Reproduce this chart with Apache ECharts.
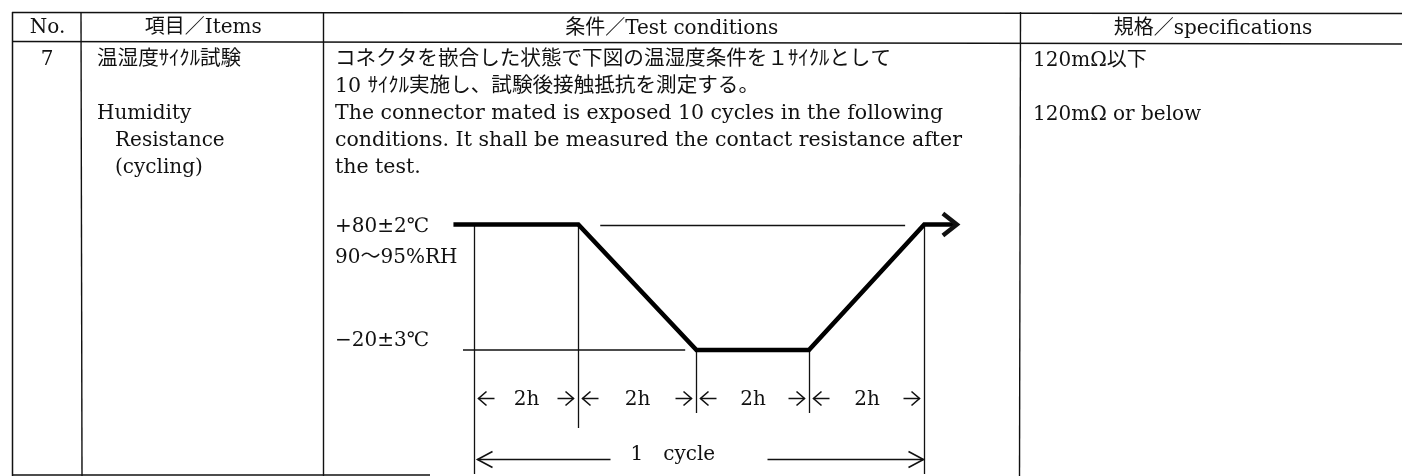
<!DOCTYPE html>
<html>
<head>
<meta charset="utf-8">
<title>温湿度サイクル試験</title>
<script src="https://cdn.jsdelivr.net/npm/echarts@6/dist/echarts.min.js"></script>
<style>
    html, body { margin: 0; padding: 0; background: #fff; }
    #chart { width: 1402px; height: 476px; }
</style>
</head>
<body>
<div id="chart"></div>
<script type="text/javascript">

// one temperature cycle (hours, degC)
var profileHours = [-0.37, 1.85, 3.95, 5.95, 8.0, 8.58];
var profileTemps = [80, 80, -20, -20, 80, 80];

// thin reference lines at the two levels
var refHighHours = [2.24, 7.66];
var refHighTemp = 79.2;
var refLowHours = [-0.2, 3.75];
var refLowTemp = -20;

// step boundaries, guide starts and labels
var stepBounds = [0, 1.85, 3.95, 5.95, 8.0];
var guideTopTemps = [80, 80, -20, -20, 80];
var stepLabels = ['2h', '2h', '2h', '2h'];
var cycleLabel = '1\u3000cycle';

// level labels
var levelTemps = [80, 80, -20];
var levelLabels = ['+80±2℃', '90～95%RH', '−20±3℃'];

// table text
var headers = ['No.', '項目／Items', '条件／Test conditions', '規格／specifications'];
var itemNo = '7';
var itemLines = ['温湿度ｻｲｸﾙ試験', '', 'Humidity', 'Resistance', '(cycling)'];
var condLines = [
    'コネクタを嵌合した状態で下図の温湿度条件を１ｻｲｸﾙとして',
    '10 ｻｲｸﾙ実施し、試験後接触抵抗を測定する。',
    'The connector mated is exposed 10 cycles in the following',
    'conditions. It shall be measured the contact resistance after',
    'the test.'
];
var specLines = ['120mΩ以下', '', '120mΩ or below'];

// ---- layout ----
var FAM = '"DejaVu Serif", "Noto Sans CJK JP"';
var F20 = '20px ' + FAM;
var FL = '20.5px ' + FAM;
var FJ = '20.6px ' + FAM;
var ink = '#111';
var rowY = [60, 87, 114, 141, 168];
var headY = 28;
var colLines = [12, 81, 323.5, 1020];
var itemX = [97, 97, 97, 115, 115];
var condX = 335;
var specX = 1033;
var levelX = 335;
var levelOffsets = [2.5, 33.5, -9];
var guideBottomPx = [474, 428, 413, 413, 474];
var stepRowY = 398.5;
var cycleRowY = 459.5;

var chart = echarts.init(document.getElementById('chart'));

// table frame and texts
var table = [];
function seg(x1, y1, x2, y2, w) {
    table.push({
        type: 'line', silent: true,
        shape: { x1: x1, y1: y1, x2: x2, y2: y2 },
        style: { stroke: ink, lineWidth: w || 1.5 }
    });
}
function txt(s, x, y, align, font) {
    table.push({
        type: 'text', silent: true, x: x, y: y,
        style: {
            text: s, font: font || F20, fill: ink,
            align: align || 'left', verticalAlign: 'middle',
            textAlign: align || 'left', textVerticalAlign: 'middle'
        }
    });
}

seg(12, 12.5, 1402, 13.5, 1.7);
seg(12, 41.5, 1402, 44, 1.5);
seg(12, 475, 430, 475, 1.6);
seg(12.5, 12, 12.5, 476, 1.5);
seg(81, 12, 82, 476, 1.4);
seg(323.5, 12, 323.5, 476, 1.4);
seg(1020.5, 12, 1019.5, 476, 1.4);

txt(headers[0], (colLines[0] + colLines[1]) / 2 + 1, headY, 'center');
txt(headers[1], (colLines[1] + colLines[2]) / 2 + 1, headY, 'center');
txt(headers[2], (colLines[2] + colLines[3]) / 2, headY + 1, 'center');
txt(headers[3], 1213, headY + 1, 'center');
txt(itemNo, 47, rowY[0], 'center');
itemLines.forEach(function (s, i) { if (s) txt(s, itemX[i], rowY[i], 'left', i === 0 ? FJ : F20); });
condLines.forEach(function (s, i) { txt(s, condX, rowY[i], 'left', i < 2 ? FJ : FL); });
specLines.forEach(function (s, i) { if (s) txt(s, specX, rowY[i] + 1, 'left'); });

function head(tipX, tipY, dir, back, half, w) {
    return {
        type: 'polyline',
        shape: { points: [[tipX - dir * back, tipY - half], [tipX, tipY], [tipX - dir * back, tipY + half]] },
        style: { stroke: ink, fill: 'none', lineWidth: w, lineJoin: 'miter' }
    };
}
function bar(x1, x2, y) {
    return { type: 'line', shape: { x1: x1, y1: y, x2: x2, y2: y }, style: { stroke: ink, lineWidth: 1.5 } };
}
function label(s, x, y, align) {
    return {
        type: 'text', x: x, y: y,
        style: {
            text: s, font: F20, fill: ink,
            align: align, verticalAlign: 'middle', textAlign: align, textVerticalAlign: 'middle'
        }
    };
}

chart.setOption({
    animation: false,
    grid: { left: 418, width: 562.5, top: 199.4, height: 276.1 },
    xAxis: { type: 'value', min: -1, max: 9, show: false },
    yAxis: { type: 'value', min: -120, max: 100, show: false },
    graphic: { elements: table },
    series: [
        {
            name: 'profile', type: 'line', showSymbol: false, silent: true,
            data: profileHours.map(function (h, i) { return [h, profileTemps[i]]; }),
            lineStyle: { color: '#000', width: 4.6, join: 'miter', cap: 'butt' },
            z: 5
        },
        {
            name: 'ref high', type: 'line', showSymbol: false, silent: true,
            data: refHighHours.map(function (h) { return [h, refHighTemp]; }),
            lineStyle: { color: ink, width: 1.3 }
        },
        {
            name: 'ref low', type: 'line', showSymbol: false, silent: true,
            data: refLowHours.map(function (h) { return [h, refLowTemp]; }),
            lineStyle: { color: ink, width: 1.3 }
        },
        {
            name: 'end arrow', type: 'custom', silent: true, z: 6,
            data: [[profileHours[profileHours.length - 1], profileTemps[profileTemps.length - 1]]],
            renderItem: function (params, api) {
                var p = api.coord([api.value(0), api.value(1)]);
                return head(p[0], p[1], 1, 14, 11, 4.4);
            }
        },
        {
            name: 'guides', type: 'custom', silent: true,
            data: stepBounds.map(function (h, i) { return [h, guideTopTemps[i]]; }),
            renderItem: function (params, api) {
                var p = api.coord([api.value(0), api.value(1)]);
                var x = Math.round(p[0]) + 0.5;
                return {
                    type: 'line',
                    shape: { x1: x, y1: p[1], x2: x, y2: guideBottomPx[params.dataIndex] },
                    style: { stroke: ink, lineWidth: 1.3 }
                };
            }
        },
        {
            name: 'steps', type: 'custom', silent: true,
            data: stepLabels.map(function (l, i) { return [stepBounds[i], stepBounds[i + 1]]; }),
            renderItem: function (params, api) {
                var xa = Math.round(api.coord([api.value(0), 0])[0]) + 0.5;
                var xb = Math.round(api.coord([api.value(1), 0])[0]) + 0.5;
                var y = stepRowY;
                return {
                    type: 'group',
                    children: [
                        bar(xa + 4, xa + 20, y),
                        head(xa + 4, y, -1, 8, 7, 1.6),
                        bar(xb - 21, xb - 5, y),
                        head(xb - 5, y, 1, 8, 7, 1.6),
                        label(stepLabels[params.dataIndex], (xa + xb) / 2, y + 1, 'center')
                    ]
                };
            }
        },
        {
            name: 'cycle', type: 'custom', silent: true,
            data: [[stepBounds[0], stepBounds[stepBounds.length - 1]]],
            renderItem: function (params, api) {
                var xa = Math.round(api.coord([api.value(0), 0])[0]) + 0.5;
                var xb = Math.round(api.coord([api.value(1), 0])[0]) + 0.5;
                var y = cycleRowY;
                return {
                    type: 'group',
                    children: [
                        bar(xa + 3, xa + 136, y),
                        head(xa + 3, y, -1, 15, 8, 1.6),
                        bar(xa + 293, xb - 1, y),
                        head(xb - 1, y, 1, 15, 8, 1.6),
                        label(cycleLabel, xa + 156, y - 5, 'left')
                    ]
                };
            }
        },
        {
            name: 'levels', type: 'custom', silent: true,
            data: levelTemps.map(function (t) { return [0, t]; }),
            renderItem: function (params, api) {
                var p = api.coord([api.value(0), api.value(1)]);
                return label(levelLabels[params.dataIndex], levelX, p[1] + levelOffsets[params.dataIndex], 'left');
            }
        }
    ]
});

</script>
</body>
</html>
